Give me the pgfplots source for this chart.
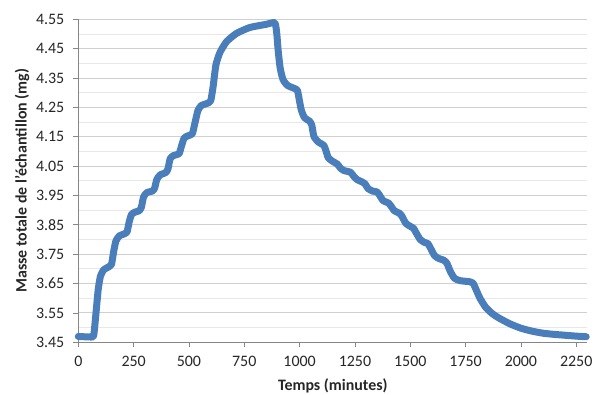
\documentclass[border=0pt]{standalone}
\usepackage{fontspec}
\setmainfont{Carlito}
\usepackage{pgfplots}
\pgfplotsset{compat=1.18}
\definecolor{lineblue}{RGB}{74,126,187}
\definecolor{axgray}{RGB}{134,134,134}
\definecolor{majgrid}{RGB}{208,208,208}
\definecolor{mingrid}{RGB}{232,232,232}
\begin{document}
\begin{tikzpicture}[x=1bp,y=1bp]
\begin{axis}[
  name=ax,
  scale only axis, width=509bp, height=323bp,
  xmin=0, xmax=2300, ymin=3.45, ymax=4.55,
  xtick={0,250,500,750,1000,1250,1500,1750,2000,2250},
  ytick={3.45,3.55,3.65,3.75,3.85,3.95,4.05,4.15,4.25,4.35,4.45,4.55},
  minor ytick={3.50,3.60,3.70,3.80,3.90,4.00,4.10,4.20,4.30,4.40,4.50},
  ymajorgrids, yminorgrids,
  major grid style={draw=majgrid, line width=0.9bp},
  minor grid style={draw=mingrid, line width=0.9bp},
  axis x line*=bottom, axis y line*=left,
  axis line style={draw=axgray, line width=0.8bp},
  tick align=outside, major tick length=5bp, minor tick length=0pt,
  tick style={draw=axgray, line width=0.8bp},
  /pgf/number format/assume math mode=true,
  scaled x ticks=false, scaled y ticks=false,
  xticklabel style={/pgf/number format/1000 sep={}, yshift=-5bp},
  yticklabel style={/pgf/number format/fixed, /pgf/number format/fixed zerofill, /pgf/number format/precision=2, xshift=-5.5bp},
  ticklabel style={font=\fontsize{16}{18}\selectfont, text=black!85},
  xlabel={\textbf{Temps (minutes)}},
  ylabel={\textbf{Masse totale de l'échantillon (mg)}},
  every axis x label/.style={at={([yshift=-44bp]axis description cs:0.5,0)}, anchor=center},
  every axis y label/.style={at={([xshift=-56.3bp]axis description cs:0,0.5)}, rotate=90, anchor=center},
  label style={font=\fontsize{16}{18}\selectfont, text=black!85},
  clip=false,
]
\addplot[lineblue, line width=7bp, line join=round, line cap=round, smooth, tension=0.35] table {
x y
0 3.470
60 3.468
70 3.475
80 3.550
90 3.630
100 3.675
115 3.697
140 3.708
150 3.715
160 3.760
170 3.795
185 3.812
210 3.820
220 3.825
230 3.860
240 3.885
255 3.893
275 3.898
285 3.910
295 3.945
310 3.960
335 3.965
345 3.975
355 4.005
370 4.020
395 4.028
405 4.040
415 4.075
430 4.086
455 4.092
465 4.115
478 4.145
495 4.153
515 4.160
525 4.190
540 4.238
555 4.256
580 4.263
598 4.272
609 4.320
622 4.395
640 4.437
670 4.474
715 4.502
775 4.522
850 4.533
888 4.538
897 4.500
903 4.445
912 4.385
925 4.345
945 4.325
975 4.315
990 4.308
1000 4.270
1008 4.240
1022 4.215
1045 4.203
1055 4.190
1065 4.150
1085 4.132
1110 4.120
1120 4.100
1130 4.078
1150 4.066
1170 4.057
1185 4.043
1200 4.035
1230 4.029
1245 4.015
1260 4.004
1280 3.997
1295 3.990
1310 3.973
1330 3.965
1350 3.962
1362 3.950
1378 3.932
1400 3.925
1412 3.915
1428 3.898
1450 3.890
1462 3.880
1480 3.855
1500 3.845
1515 3.838
1525 3.825
1545 3.800
1565 3.790
1580 3.786
1592 3.770
1610 3.745
1630 3.735
1650 3.730
1665 3.720
1682 3.690
1700 3.668
1725 3.660
1770 3.656
1785 3.650
1800 3.625
1815 3.600
1840 3.570
1870 3.548
1900 3.533
1950 3.513
2000 3.498
2050 3.488
2100 3.481
2150 3.477
2200 3.474
2250 3.471
2295 3.469
};
\end{axis}
\pgfresetboundingbox
\path (ax.south west) ++(-78.3bp,-52.7bp) coordinate (bl);
\path (ax.north east) ++(14.7bp,19.3bp) coordinate (tr);
\path (bl) rectangle (tr);
\end{tikzpicture}
\end{document}
